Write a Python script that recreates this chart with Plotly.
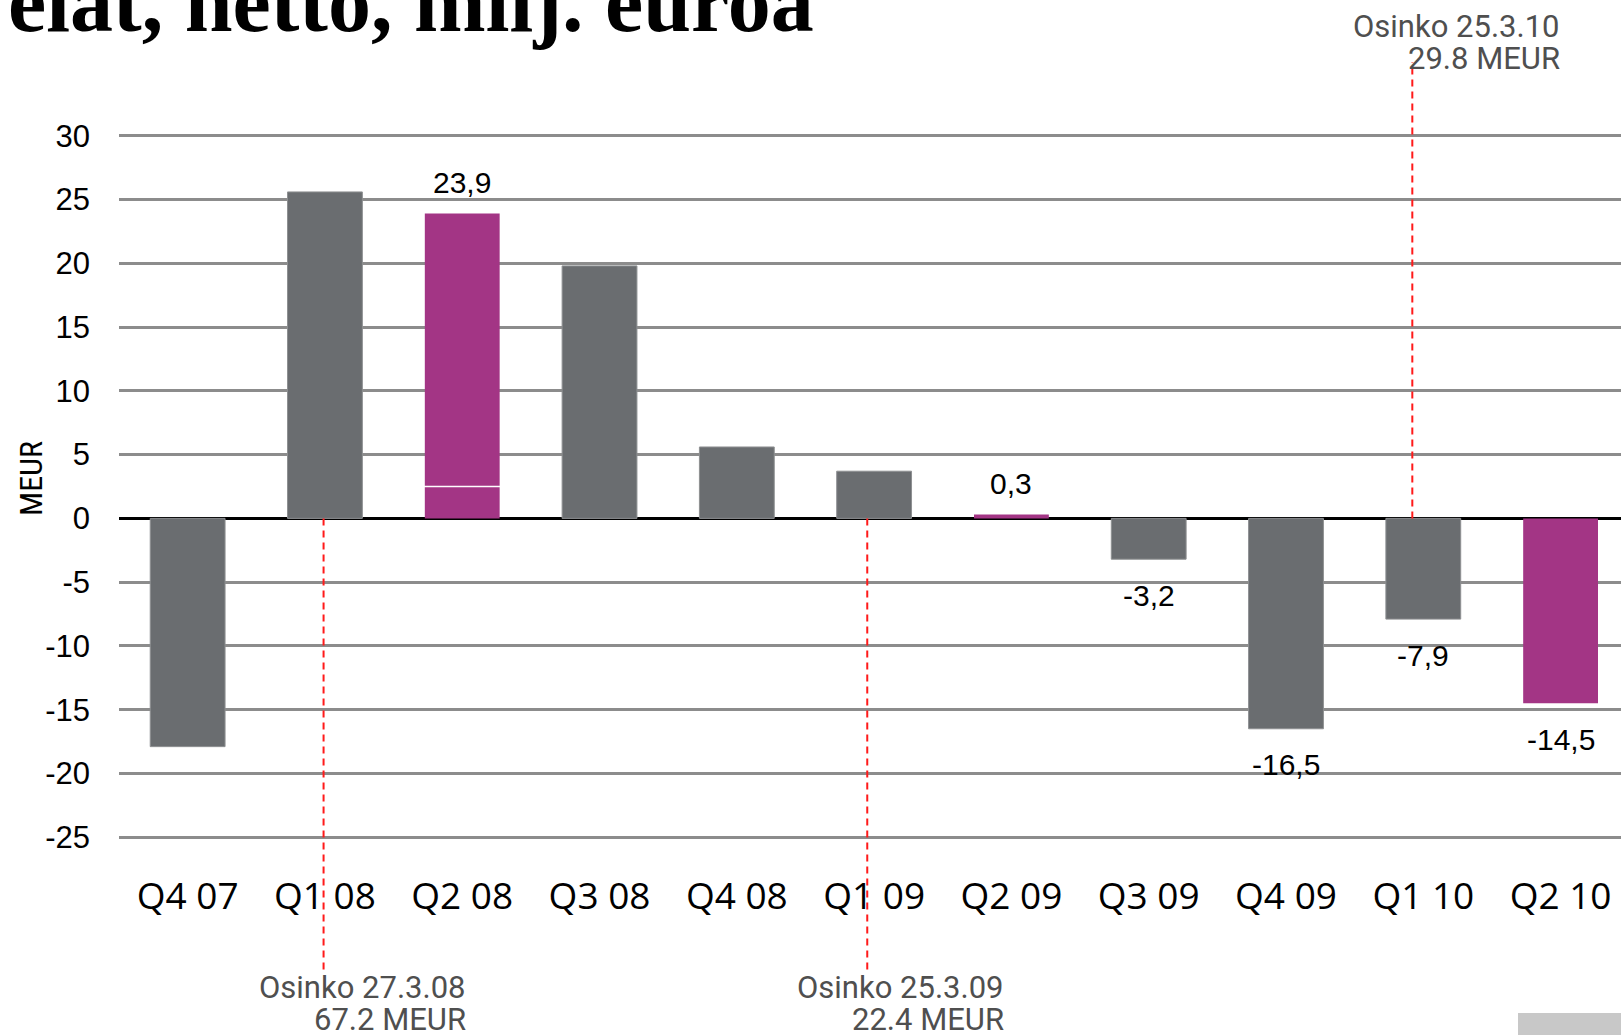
import plotly.graph_objects as go

# ---- data ----
categories = ["Q4 07", "Q1 08", "Q2 08", "Q3 08", "Q4 08", "Q1 09", "Q2 09", "Q3 09", "Q4 09", "Q1 10", "Q2 10"]
values = [-17.9, 25.6, 23.9, 19.8, 5.6, 3.7, 0.3, -3.2, -16.5, -7.9, -14.5]
highlight = [False, False, True, False, False, False, True, False, False, False, True]
value_labels = [None, None, "23,9", None, None, None, "0,3", "-3,2", "-16,5", "-7,9", "-14,5"]
q2_08_split = 2.5  # white divider inside the Q2 08 bar

dividend_pos = [0.99, 4.95, 8.92]
dividend_date = ["Osinko 27.3.08", "Osinko 25.3.09", "Osinko 25.3.10"]
dividend_amount = ["67.2 MEUR", "22.4 MEUR", "29.8 MEUR"]
dividend_side = ["below", "below", "above"]

y_ticks = [30, 25, 20, 15, 10, 5, 0, -5, -10, -15, -20, -25]
y_tick_text = [str(t) for t in y_ticks]

# ---- styles / geometry (page pixel coords) ----
GRAY = "#6a6d70"
MAGENTA = "#a33585"
W, H = 1621, 1035
ML, MR, MT, MB = 119, 0, 132, 194
YR = [-25.3, 30.3]
XR = [-0.5, 10.44]
plot_h = H - MT - MB
px_per_unit = plot_h / (YR[1] - YR[0])
text_shift = [144, 139, 150]

def page_to_paper_y(p):
    return (H - MB - p) / plot_h

def page_to_paper_x(p):
    return (p - ML) / (W - ML - MR)

xs = list(range(len(categories)))
fig = go.Figure()

gap = 1.5 / px_per_unit
gray_x = [x for x, h in zip(xs, highlight) if not h]
gray_y = [v for v, h in zip(values, highlight) if not h]
fig.add_trace(go.Bar(x=gray_x, y=gray_y, marker_color=GRAY, width=0.545,
                     marker_line=dict(color="#8e9092", width=1), hoverinfo="x+y"))

mag_x, mag_y, mag_base = [], [], []
for x, v, h, c in zip(xs, values, highlight, categories):
    if not h:
        continue
    if c == "Q2 08":
        mag_x += [x, x]
        mag_base += [0, q2_08_split + gap / 2]
        mag_y += [q2_08_split - gap / 2, v - q2_08_split - gap / 2]
    else:
        mag_x.append(x)
        mag_base.append(0)
        mag_y.append(v)
fig.add_trace(go.Bar(x=mag_x, y=mag_y, base=mag_base, marker_color=MAGENTA, width=0.545,
                     marker_line_width=0, hoverinfo="x+y"))

annotations = []
for x, v, lab in zip(xs, values, value_labels):
    if lab is None:
        continue
    annotations.append(dict(x=x, y=v, xref="x", yref="y", text=lab, showarrow=False,
                            yshift=31 if v >= 0 else -36,
                            font=dict(family="Liberation Sans", size=30, color="#000000")))

shapes = []
zero_paper = (0 - YR[0]) / (YR[1] - YR[0])
for pos, d, a, side, sh in zip(dividend_pos, dividend_date, dividend_amount, dividend_side, text_shift):
    if side == "below":
        y_end = page_to_paper_y(972)
        l1, l2 = page_to_paper_y(987), page_to_paper_y(1019)
    else:
        y_end = page_to_paper_y(62)
        l1, l2 = page_to_paper_y(26), page_to_paper_y(59)
    shapes.append(dict(type="line", xref="x", yref="paper", x0=pos, x1=pos, y0=zero_paper, y1=y_end,
                       line=dict(color="#ff1a1a", width=2, dash="7px,5px"), layer="above"))
    for txt, yy in ((d, l1), (a, l2)):
        annotations.append(dict(x=pos, y=yy, xref="x", yref="paper", text=txt, showarrow=False,
                                xanchor="right", yanchor="middle", xshift=sh,
                                font=dict(family="Roboto", size=31, color="#4f4f4f")))

# y-axis title
annotations.append(dict(x=page_to_paper_x(31), y=page_to_paper_y(479), xref="paper", yref="paper",
                        text="MEUR", textangle=-90, showarrow=False, xanchor="center", yanchor="middle",
                        font=dict(family="Liberation Sans Narrow, Roboto Condensed, Liberation Sans", size=32, color="#000")))
# cut-off slide title
annotations.append(dict(x=page_to_paper_x(6), y=page_to_paper_y(52), xref="paper", yref="paper",
                        text="<b>elat, netto, milj. euroa</b>", showarrow=False, xanchor="left", yanchor="bottom",
                        font=dict(family="Liberation Serif", size=86, color="#000")))

# logo fragment bottom right
shapes.append(dict(type="rect", xref="paper", yref="paper", x0=page_to_paper_x(1518), x1=1.0,
                   y0=page_to_paper_y(1040), y1=page_to_paper_y(1013), fillcolor="#c8c8c8", line_width=0))

fig.update_layout(
    width=W, height=H, barmode="overlay", showlegend=False,
    margin=dict(l=ML, r=MR, t=MT, b=MB),
    paper_bgcolor="white", plot_bgcolor="white",
    annotations=annotations, shapes=shapes,
    xaxis=dict(range=XR, tickmode="array", tickvals=xs, ticktext=categories, showgrid=False,
               zeroline=False, showline=False, ticks="", ticklabelstandoff=30,
               tickfont=dict(family="Open Sans", size=37, color="#000")),
    yaxis=dict(range=YR, tickmode="array", tickvals=y_ticks, ticktext=y_tick_text,
               showgrid=True, gridcolor="#8c8c8c", gridwidth=3,
               zeroline=True, zerolinecolor="#000", zerolinewidth=3, showline=False, ticks="",
               ticklabelstandoff=28, tickfont=dict(family="Liberation Sans", size=31, color="#000")),
)

fig.write_html("out.html", config={"displayModeBar": False},
               post_script="document.body.style.margin='0';document.body.style.overflow='hidden';")
